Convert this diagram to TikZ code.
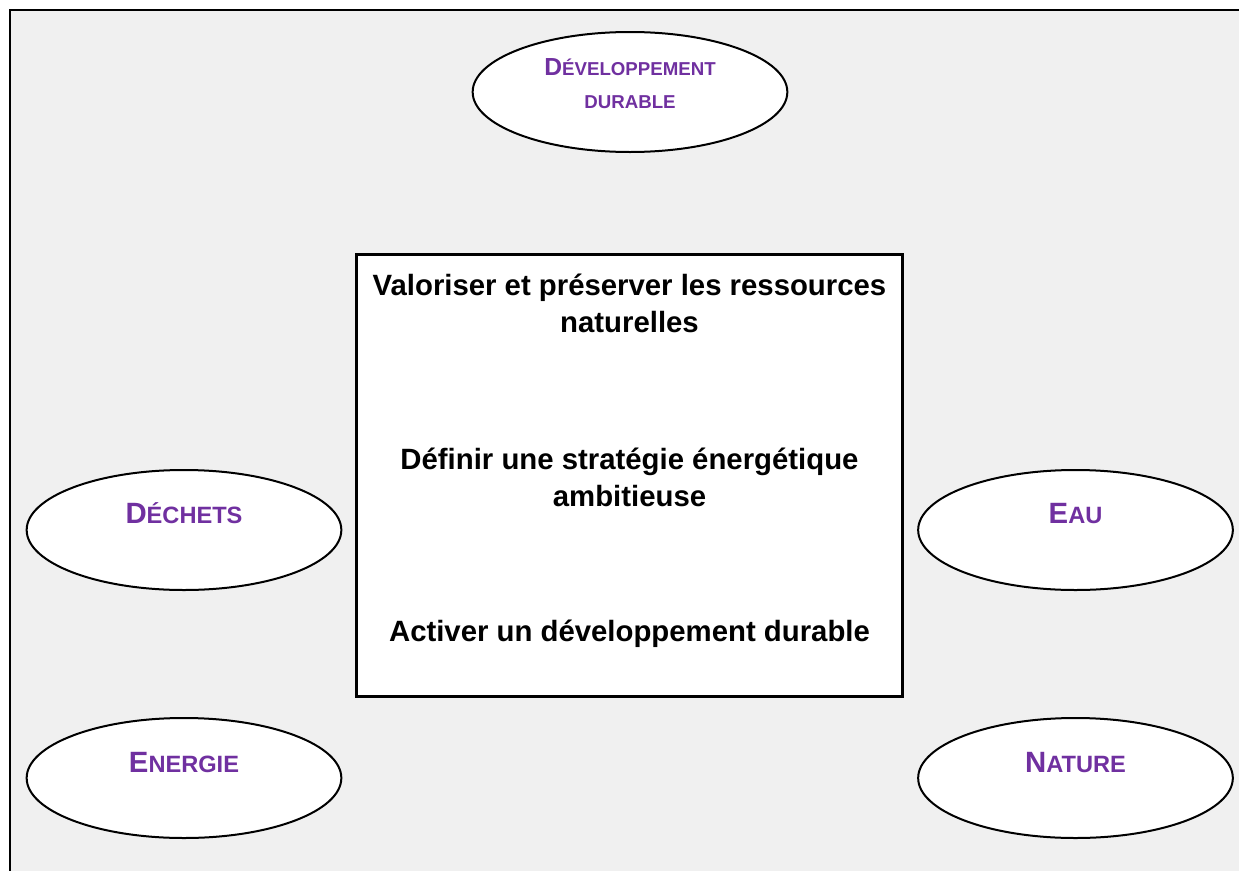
\documentclass[tikz,border=0pt]{standalone}
\usepackage{fontspec}
\setmainfont{Liberation Sans}
\usetikzlibrary{shapes.geometric,positioning}
\definecolor{fondgris}{HTML}{F0F0F0}
\definecolor{themeviolet}{HTML}{7030A0}
% small caps as Word draws them
\newcommand{\grandsc}[2]{{\fontsize{22}{26}\selectfont #1}{\fontsize{17.7}{21}\selectfont #2}}
\newcommand{\petitsc}[2]{{\fontsize{18.5}{22}\selectfont #1}{\fontsize{14}{17}\selectfont #2}}
\tikzset{%
        x=0.75pt,
        y=-0.75pt
}
\tikzstyle{theme}=[
    ellipse,
    draw = black,
    fill = white,
    line width = 1.5pt,
    minimum width = 236pt,
    minimum height = 90pt
]
\tikzstyle{themetext}=[
    anchor = base,
    inner sep = 0pt,
    text = themeviolet,
    font = \bfseries
]
\tikzstyle{objtext}=[
    anchor = base,
    inner sep = 0pt,
    font = \bfseries\fontsize{22}{27}\selectfont
]

\begin{document}
\begin{tikzpicture}
        \useasboundingbox (0,0) rectangle (1239,871);
        \coordinate (bl) at (10,871);
        \coordinate (tl) at (10,10);
        \coordinate (tr) at (1239,10);
        \fill[fondgris] (tl) rectangle (1239,871);
        \draw[line width=2pt] (bl) -- (tl) -- (tr);
        % objectifs
        \node[draw, fill=white, line width=2.25pt, minimum width=410pt, minimum height=331pt]
          (obj) at (629.5,475.5) {};
        \node[objtext] (o1) at (629.5,295) {Valoriser et préserver les ressources};
        \node[objtext] (o2) at (629.5,332) {naturelles};
        \node[objtext] (o3) at (629.5,469) {Définir une stratégie énergétique};
        \node[objtext] (o4) at (629.5,506) {ambitieuse};
        \node[objtext] (o5) at (629.5,641) {Activer un développement durable};
        % thèmes
        \node[theme] (dd) at (630,92) {};
        \node[themetext] (ddt1) at (630,75) {\petitsc{D}{ÉVELOPPEMENT}};
        \node[themetext] (ddt2) at (630,108) {\petitsc{}{DURABLE}};
        \node[theme] (dechets) at (184,530) {};
        \node[themetext] (dechetst) at (184,523) {\grandsc{D}{ÉCHETS}};
        \node[theme] (eau) at (1075.5,530) {};
        \node[themetext] (eaut) at (1075.5,523) {\grandsc{E}{AU}};
        \node[theme] (energie) at (184,778) {};
        \node[themetext] (energiet) at (184,772) {\grandsc{E}{NERGIE}};
        \node[theme] (nature) at (1075.5,778) {};
        \node[themetext] (naturet) at (1075.5,772) {\grandsc{N}{ATURE}};
\end{tikzpicture}
\end{document}
